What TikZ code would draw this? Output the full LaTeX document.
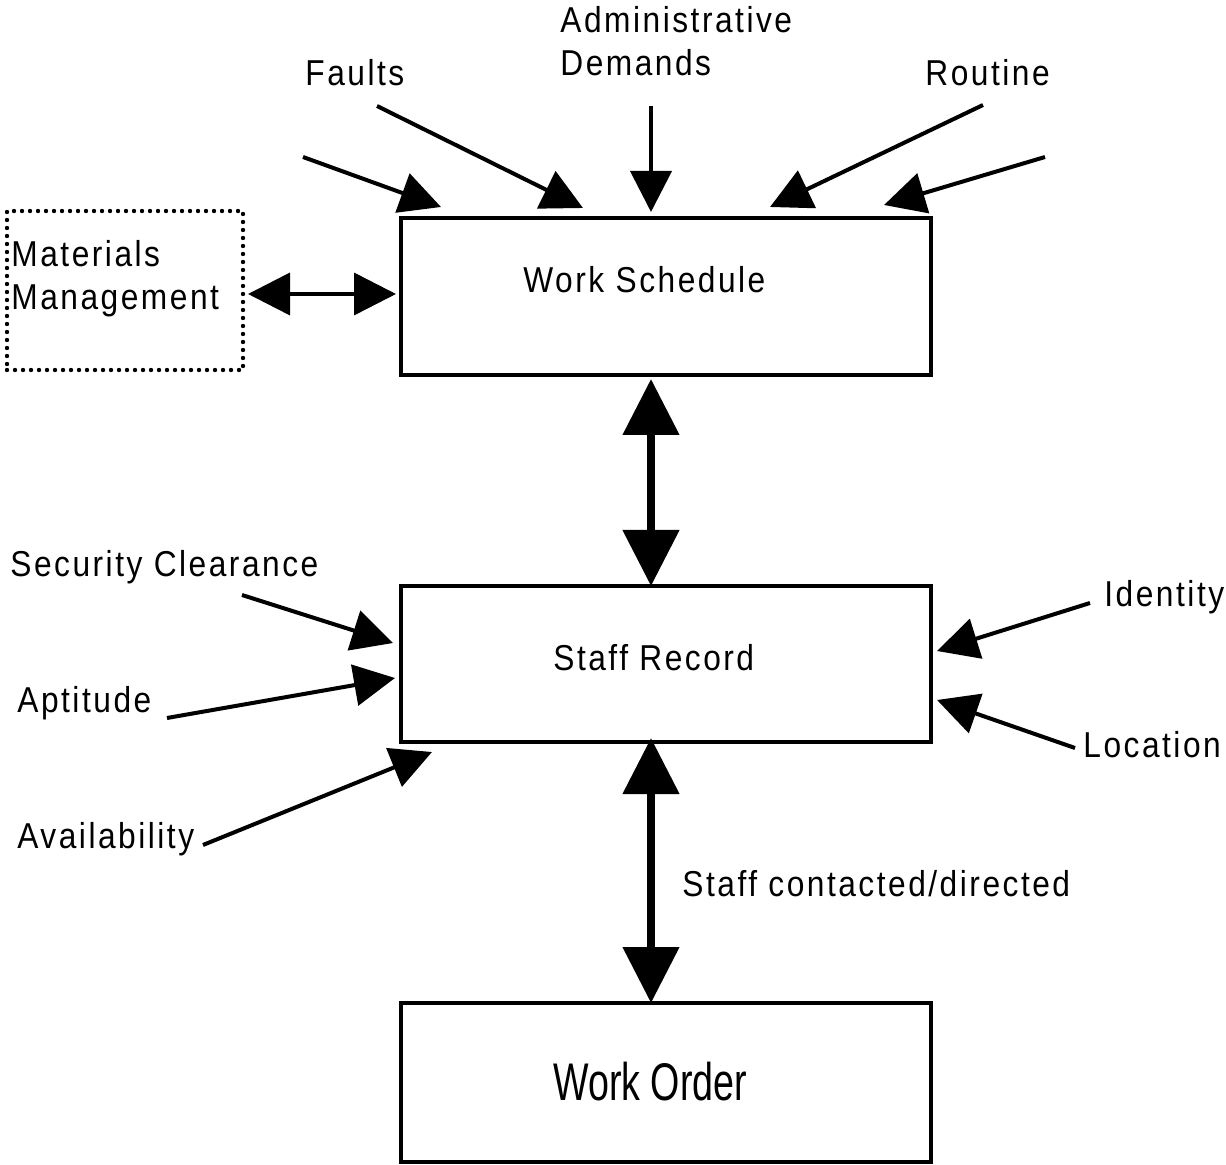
\documentclass[tikz,border=0pt]{standalone}
\usepackage{fontspec}
\setmainfont{Liberation Sans}[FakeStretch=0.88,LetterSpace=7]
\newfontfamily\wofont{Liberation Sans}[FakeStretch=0.71]
\usetikzlibrary{arrows.meta,fit}
\begin{document}
\begin{tikzpicture}[x=0.5pt,y=-0.5pt,
  box/.style={draw, line width=2pt, inner sep=0pt},
  dotbox/.style={draw, line width=2.2pt, dash pattern=on 0pt off 4pt, line cap=round, inner sep=0pt},
  lbl/.style={inner sep=0pt, anchor=base west, align=left, font={\fontsize{18pt}{21.5pt}\selectfont}},
  inarrow/.style={line width=2pt, -{Triangle[length=20.5pt,width=20.5pt]}},
  mmarrow/.style={line width=1.8pt, {Triangle[length=21pt,width=21pt]}-{Triangle[length=21pt,width=21pt]}},
  bigarrow/.style={line width=4pt, {Triangle[length=28pt,width=27.5pt]}-{Triangle[length=28pt,width=27.5pt]}}]
\useasboundingbox (0,0) rectangle (1226,1165);
% boxes
\node[box, fit={(401,218) (931,375)}] (ws) {};
\node[box, fit={(401,586) (931,742)}] (sr) {};
\node[box, fit={(401,1003) (931,1162)}] (wo) {};
\node[dotbox, fit={(7,211) (243,370)}] (mm) {};
% box texts
\node[lbl] (wsT) at (523,293) {Work Schedule};
\node[lbl] (srT) at (553,670) {Staff Record};
\node[inner sep=0pt, anchor=base west, font={\wofont\fontsize{26.5pt}{30pt}\selectfont}] (woT) at (553,1100) {Work Order};
\node[lbl] (mmT) at (11,310) {Materials\\Management};
% labels
\node[lbl] (faults) at (305,86) {Faults};
\node[lbl] (admin) at (560,76) {Administrative\\Demands};
\node[lbl] (routine) at (925,86) {Routine};
\node[lbl] (sec) at (10,577) {Security Clearance};
\node[lbl] (apt) at (17,712) {Aptitude};
\node[lbl] (avail) at (17,848) {Availability};
\node[lbl] (ident) at (1104,607) {Identity};
\node[lbl] (loc) at (1083,757) {Location};
\node[lbl] (staffc) at (682,896) {Staff contacted/directed};
% connector end points
\coordinate (t1s) at (303,157);  \coordinate (t1e) at (441,207);
\coordinate (t2s) at (377,106);  \coordinate (t2e) at (583,208);
\coordinate (t3s) at (651,106);  \coordinate (t3e) at (651,212);
\coordinate (t4s) at (983,105);  \coordinate (t4e) at (770,207);
\coordinate (t5s) at (1045,157); \coordinate (t5e) at (884,205);
\coordinate (secS) at (242,595); \coordinate (secE) at (393,643);
\coordinate (aptS) at (167,718); \coordinate (aptE) at (395,678);
\coordinate (avS) at (203,845);  \coordinate (avE) at (432,752);
\coordinate (idS) at (1090,603); \coordinate (idE) at (937,651);
\coordinate (locS) at (1075,748); \coordinate (locE) at (937,700);
\coordinate (mmL) at (248,294);  \coordinate (mmR) at (396,294);
\coordinate (vx) at (651,0);
% arrows
\draw[inarrow] (t1s) -- (t1e);
\draw[inarrow] (t2s) -- (t2e);
\draw[inarrow] (t3s) -- (t3e);
\draw[inarrow] (t4s) -- (t4e);
\draw[inarrow] (t5s) -- (t5e);
\draw[inarrow] (secS) -- (secE);
\draw[inarrow] (aptS) -- (aptE);
\draw[inarrow] (avS) -- (avE);
\draw[inarrow] (idS) -- (idE);
\draw[inarrow] (locS) -- (locE);
\draw[mmarrow] (mmL) -- (mmR);
\draw[bigarrow] ([yshift=-1pt]ws.south -| vx) -- ([yshift=-1pt]sr.north -| vx);
\draw[bigarrow] ([yshift=3pt]sr.south -| vx) -- ([yshift=-1pt]wo.north -| vx);
\end{tikzpicture}
\end{document}
